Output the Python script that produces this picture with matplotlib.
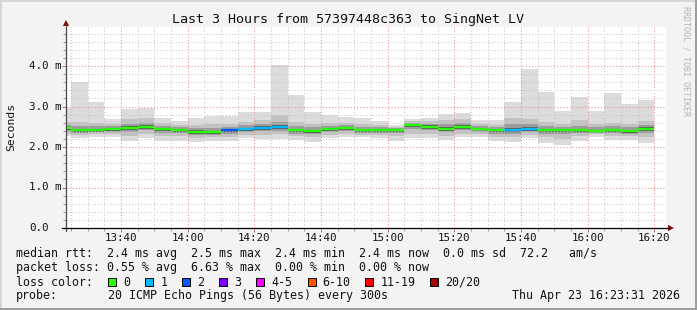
import matplotlib
matplotlib.use('Agg')
import matplotlib.pyplot as plt
from matplotlib.lines import Line2D
from matplotlib.patches import Polygon, Rectangle
from matplotlib.transforms import blended_transform_factory

# ---------------- data ----------------
bar_end = ['13:25', '13:30', '13:35', '13:40', '13:45', '13:50', '13:55', '14:00', '14:05',
           '14:10', '14:15', '14:20', '14:25', '14:30', '14:35', '14:40', '14:45', '14:50',
           '14:55', '15:00', '15:05', '15:10', '15:15', '15:20', '15:25', '15:30', '15:35',
           '15:40', '15:45', '15:50', '15:55', '16:00', '16:05', '16:10', '16:15', '16:20']

# ms values
rtt_median = [2.46, 2.42, 2.42, 2.44, 2.47, 2.50, 2.44, 2.42, 2.38, 2.37, 2.41, 2.45, 2.48, 2.50,
              2.42, 2.40, 2.45, 2.47, 2.42, 2.42, 2.42, 2.55, 2.50, 2.45, 2.50, 2.45, 2.41, 2.42,
              2.45, 2.42, 2.42, 2.42, 2.40, 2.42, 2.40, 2.45]
rtt_min = [2.27, 2.21, 2.24, 2.25, 2.16, 2.23, 2.16, 2.16, 2.12, 2.16, 2.16, 2.21, 2.20, 2.20,
           2.17, 2.13, 2.21, 2.24, 2.24, 2.22, 2.15, 2.22, 2.22, 2.17, 2.24, 2.25, 2.16, 2.13,
           2.21, 2.11, 2.06, 2.16, 2.25, 2.17, 2.18, 2.11]
rtt_max = [2.97, 3.61, 3.12, 2.68, 2.94, 2.97, 2.71, 2.64, 2.72, 2.77, 2.77, 2.87, 2.86, 4.02,
           3.28, 2.87, 2.79, 2.74, 2.72, 2.64, 2.54, 2.69, 2.72, 2.81, 2.85, 2.66, 2.66, 3.11,
           3.93, 3.36, 2.89, 3.23, 2.89, 3.33, 3.06, 3.15]
rtt_p10 = [2.33, 2.30, 2.32, 2.33, 2.27, 2.31, 2.27, 2.26, 2.22, 2.24, 2.25, 2.29, 2.30, 2.31,
           2.26, 2.24, 2.30, 2.32, 2.30, 2.30, 2.26, 2.32, 2.32, 2.27, 2.33, 2.32, 2.25, 2.24,
           2.30, 2.24, 2.20, 2.26, 2.31, 2.27, 2.28, 2.24]
rtt_p90 = [2.62, 2.62, 2.60, 2.58, 2.70, 2.72, 2.60, 2.55, 2.55, 2.58, 2.58, 2.62, 2.66, 2.78,
           2.62, 2.58, 2.60, 2.60, 2.56, 2.55, 2.50, 2.64, 2.64, 2.66, 2.70, 2.58, 2.55, 2.72,
           2.70, 2.62, 2.56, 2.66, 2.58, 2.60, 2.58, 2.64]
rtt_p25 = [2.39, 2.35, 2.36, 2.38, 2.38, 2.41, 2.35, 2.34, 2.30, 2.30, 2.33, 2.37, 2.39, 2.40,
           2.33, 2.31, 2.37, 2.39, 2.35, 2.35, 2.34, 2.45, 2.41, 2.36, 2.42, 2.38, 2.32, 2.33,
           2.36, 2.33, 2.32, 2.34, 2.34, 2.34, 2.33, 2.35]
rtt_p75 = [2.54, 2.52, 2.52, 2.52, 2.58, 2.60, 2.52, 2.50, 2.48, 2.48, 2.50, 2.54, 2.57, 2.62,
           2.52, 2.49, 2.53, 2.54, 2.50, 2.49, 2.47, 2.60, 2.58, 2.56, 2.60, 2.52, 2.49, 2.56,
           2.57, 2.52, 2.50, 2.53, 2.49, 2.51, 2.49, 2.54]
rtt_p40 = [2.42, 2.37, 2.38, 2.40, 2.41, 2.45, 2.39, 2.37, 2.33, 2.33, 2.36, 2.40, 2.43, 2.45,
           2.37, 2.35, 2.40, 2.42, 2.38, 2.38, 2.37, 2.49, 2.45, 2.40, 2.45, 2.41, 2.36, 2.37,
           2.40, 2.36, 2.36, 2.37, 2.36, 2.37, 2.35, 2.39]
rtt_p60 = [2.49, 2.45, 2.45, 2.47, 2.51, 2.54, 2.47, 2.45, 2.41, 2.40, 2.44, 2.48, 2.51, 2.54,
           2.45, 2.43, 2.48, 2.50, 2.45, 2.45, 2.44, 2.58, 2.54, 2.49, 2.54, 2.48, 2.44, 2.46,
           2.49, 2.45, 2.45, 2.45, 2.43, 2.45, 2.43, 2.49]
loss_bin = [0, 0, 0, 0, 0, 0, 0, 0, 0, 0, 2, 1, 1, 1, 0, 0, 0, 0, 0, 0, 0, 0, 0, 0, 0, 0, 0, 1,
            1, 0, 0, 0, 0, 0, 0, 0]

loss_labels = ['0', '1', '2', '3', '4-5', '6-10', '11-19', '20/20']
loss_colors = ['#26ff00', '#00b8ff', '#0059ff', '#7e00ff', '#ff00ff', '#ff5500', '#ff0000', '#a10000']

x_tick_labels = ['13:40', '14:00', '14:20', '14:40', '15:00', '15:20', '15:40', '16:00', '16:20']
y_tick_values = [0, 1, 2, 3, 4]
y_tick_labels = ['0.0', '1.0 m', '2.0 m', '3.0 m', '4.0 m']

title = 'Last 3 Hours from 57397448c363 to SingNet LV'
legend_lines = [
    'median rtt:  2.4 ms avg  2.5 ms max  2.4 ms min  2.4 ms now  0.0 ms sd  72.2   am/s',
    'packet loss: 0.55 % avg  6.63 % max  0.00 % min  0.00 % now',
    'loss color:',
]
probe_label = 'probe:'
probe_text = '20 ICMP Echo Pings (56 Bytes) every 300s'
date_text = 'Thu Apr 23 16:23:31 2026'
start_time = '13:23:31'
span_minutes = 180
step_minutes = 5

# ---------------- helpers ----------------
W, H, DPI = 697, 310, 100
MONO = 'DejaVu Sans Mono'


def hm(s):
    parts = [int(p) for p in s.split(':')]
    m = parts[0] * 60 + parts[1]
    if len(parts) > 2:
        m += parts[2] / 60.0
    return m


def fx(x):
    return x / W


def fy(y):
    return 1 - y / H


fig = plt.figure(figsize=(W / DPI, H / DPI), dpi=DPI)
fig.patch.set_facecolor('#f3f3f3')

# frame
fig.add_artist(Line2D([0, 1], [fy(0.5), fy(0.5)], transform=fig.transFigure, color='#d6d6d6', lw=1.4))
fig.add_artist(Line2D([fx(0.5), fx(0.5)], [0, 1], transform=fig.transFigure, color='#d6d6d6', lw=1.4))
fig.add_artist(Line2D([0, 1], [fy(309.3), fy(309.3)], transform=fig.transFigure, color='#9c9c9c', lw=1.4))
fig.add_artist(Line2D([fx(696.3), fx(696.3)], [0, 1], transform=fig.transFigure, color='#9c9c9c', lw=1.4))

PL, PR, PT, PB = 66, 666, 27, 228
PX_PER_MS = 40.5
ax = fig.add_axes([fx(PL), fy(PB), (PR - PL) / W, (PB - PT) / H])
ax.set_facecolor('white')
t0 = hm(start_time)
ax.set_xlim(t0, t0 + span_minutes)
ax.set_ylim(0, (PB - PT) / PX_PER_MS)
for s in ax.spines.values():
    s.set_visible(False)

ends = [hm(s) for s in bar_end]
starts = [e - step_minutes for e in ends]

bands = [
    (rtt_min, rtt_max, '#dcdcdc'),
    (rtt_p10, rtt_p90, '#c2c2c2'),
    (rtt_p25, rtt_p75, '#9c9c9c'),
    (rtt_p40, rtt_p60, '#5c5c5c'),
]
for lo, hi, col in bands:
    ax.bar(starts, [h - l for l, h in zip(lo, hi)], bottom=lo, width=step_minutes,
           align='edge', color=col, linewidth=0, zorder=1)

ax.hlines(rtt_median, starts, ends, colors=[loss_colors[k] for k in loss_bin],
          linewidth=1.7, zorder=4)

# grid
major_x = [hm(s) for s in x_tick_labels]
ax.set_xticks(major_x)
ax.set_xticks([hm(s) for s in bar_end], minor=True)
ax.set_yticks(y_tick_values)
ax.set_yticks([v / 5 for v in range(0, 25)], minor=True)
ax.set_xticklabels([])
ax.set_yticklabels([])
ax.set_axisbelow(False)
ax.grid(which='minor', color='#c6c6c6', linestyle=(0, (1, 2)), linewidth=0.75)
ax.grid(which='major', color='#ee8c8c', linestyle=(0, (1, 2)), linewidth=0.75)
ax.tick_params(which='minor', length=2, color='#9a9a9a', width=0.7, direction='out')
ax.tick_params(which='major', length=3, color='#c07070', width=0.7, direction='out')

# tick labels
bx = blended_transform_factory(ax.transData, fig.transFigure)
for t, lbl in zip(major_x, x_tick_labels):
    ax.text(t, fy(238), lbl, transform=bx, ha='center', va='center', family=MONO,
            fontsize=7.8, color='#111111')
by = blended_transform_factory(fig.transFigure, ax.transData)
for v, lbl in zip(y_tick_values, y_tick_labels):
    ax.text(fx(29), v, lbl, transform=by, ha='left', va='center', family=MONO,
            fontsize=7.8, color='#111111')

fig.text(fx(11), fy(127), 'Seconds', rotation=90, ha='center', va='center', family=MONO,
         fontsize=8.2, color='#111111')

# axis lines and arrows
fig.add_artist(Line2D([fx(PL), fx(PL)], [fy(231), fy(25)], transform=fig.transFigure,
                      color='#4a4a4a', lw=0.9))
fig.add_artist(Line2D([fx(62), fx(669)], [fy(PB), fy(PB)], transform=fig.transFigure,
                      color='black', lw=0.9))
fig.add_artist(Polygon([[fx(PL), fy(20)], [fx(PL - 3.2), fy(26)], [fx(PL + 3.2), fy(26)]],
                       closed=True, transform=fig.transFigure, color='#8a1010', lw=0))
fig.add_artist(Polygon([[fx(674), fy(PB)], [fx(668), fy(PB - 3.2)], [fx(668), fy(PB + 3.2)]],
                       closed=True, transform=fig.transFigure, color='#8a1010', lw=0))

# title
fig.text(0.5, fy(19), title, ha='center', va='center', family=MONO, fontsize=9.6, color='#111111')

# watermark
fig.text(fx(686), fy(61), 'RRDTOOL / TOBI OETIKER', rotation=270, ha='center', va='center',
         family=MONO, fontsize=6.0, color='#b4b4b4')

# legend
for i, line in enumerate(legend_lines):
    fig.text(fx(16), fy(254 + 14 * i), line, ha='left', va='center', family=MONO,
             fontsize=8.4, color='#111111')

sw_x = [108, 145.3, 182.2, 219, 256.4, 307.6, 365.3, 430.2]
for x, lbl, col in zip(sw_x, loss_labels, loss_colors):
    fig.add_artist(Rectangle((fx(x), fy(286)), 8 / W, 8 / H, transform=fig.transFigure,
                             facecolor=col, edgecolor='black', lw=0.7))
    fig.text(fx(x + 15), fy(282), lbl, ha='left', va='center', family=MONO,
             fontsize=8.4, color='#111111')

fig.text(fx(16), fy(296), probe_label, ha='left', va='center', family=MONO, fontsize=8.4,
         color='#111111')
fig.text(fx(108), fy(296), probe_text, ha='left', va='center', family=MONO, fontsize=8.4,
         color='#111111')
fig.text(fx(680), fy(296), date_text, ha='right', va='center', family=MONO, fontsize=8.4,
         color='#111111')

fig.savefig('out.png', dpi=DPI, facecolor=fig.get_facecolor())
